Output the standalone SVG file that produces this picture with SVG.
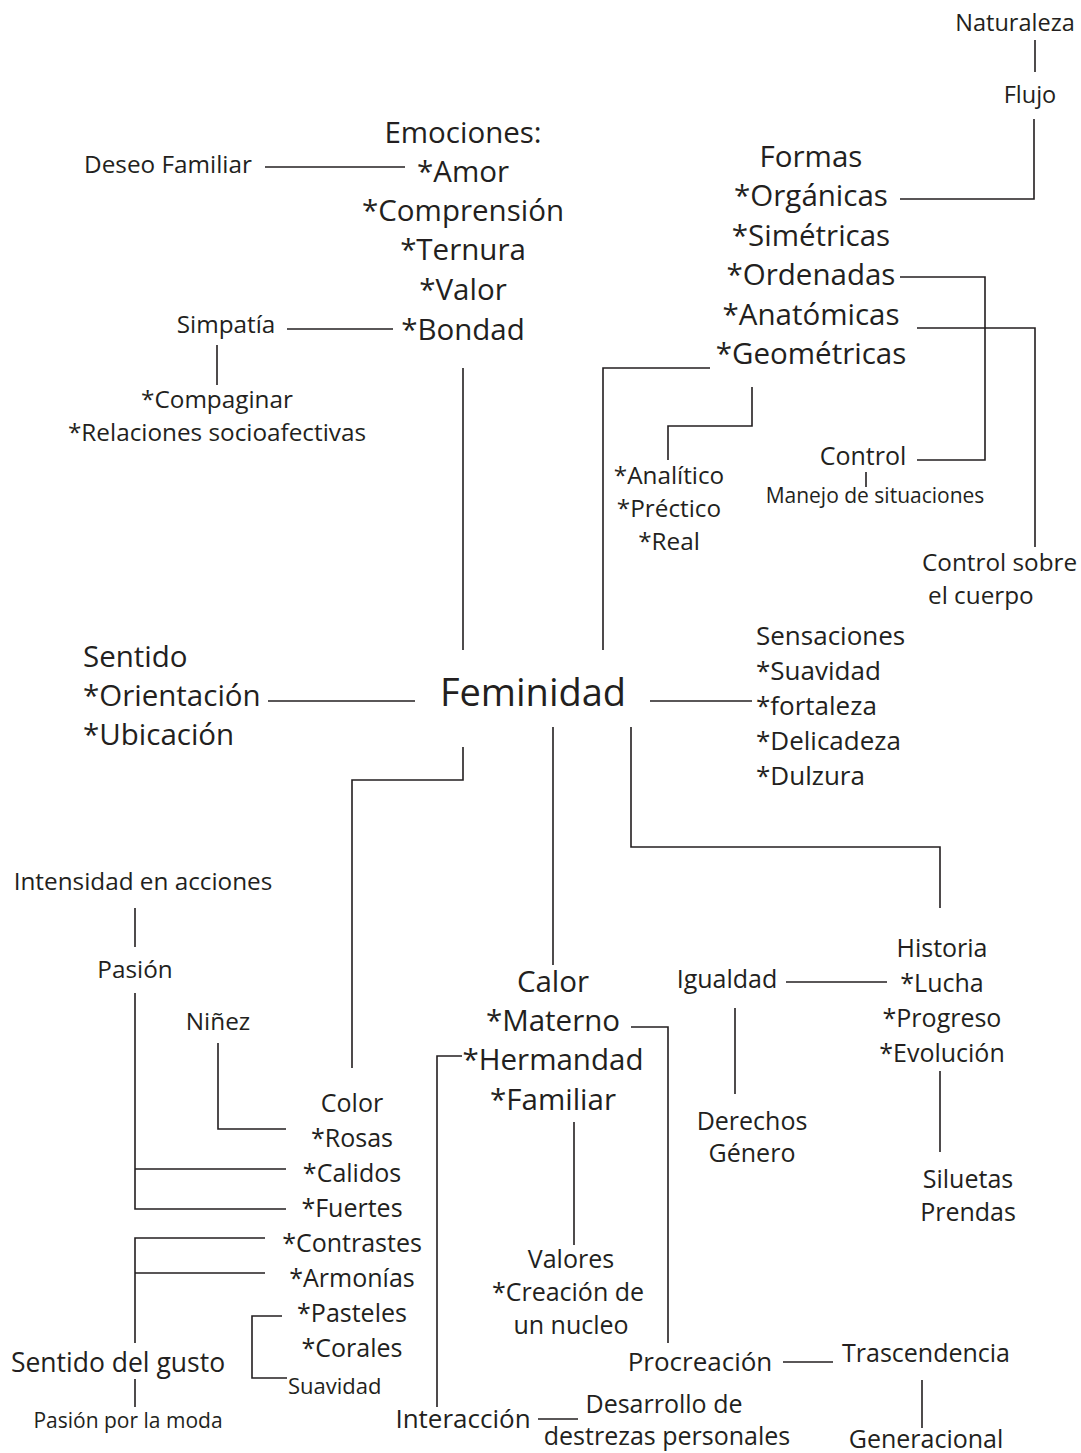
<svg xmlns="http://www.w3.org/2000/svg" width="1081" height="1453" viewBox="0 0 1081 1453">
<style>
text{font-family:"Open Sans","Noto Sans",sans-serif;fill:#231f20}
.c{text-anchor:middle}
.xl{font-size:29.5px}
.l{font-size:25px}
.m{font-size:24.3px}
.s{font-size:21px}
.f{font-size:38px}
.con path{fill:none;stroke:#231f20;stroke-width:1.6}
</style>
<rect width="1081" height="1453" fill="#fff"/>
<g class="con" id="connectors">
<path d="M1035,40V72"/>
<path d="M900,199H1034V119"/>
<path d="M900,277H985V460H917"/>
<path d="M917,328H1035V547"/>
<path d="M710,368H603V650"/>
<path d="M752,387V426H668V460"/>
<path d="M866,472V487"/>
<path d="M265,167H405"/>
<path d="M287,329H393"/>
<path d="M217,345V385"/>
<path d="M463,368V650"/>
<path d="M268,701H415"/>
<path d="M650,701H752"/>
<path d="M463,747V780H352V1068"/>
<path d="M553,727V965"/>
<path d="M631,727V847H940V908"/>
<path d="M135,908V947"/>
<path d="M135,993V1209H286M135,1169H286"/>
<path d="M218,1043V1129H286"/>
<path d="M265,1238H135V1343M135,1273H265"/>
<path d="M135,1379V1407"/>
<path d="M282,1316H252V1378H287"/>
<path d="M631,1027H668V1343"/>
<path d="M462,1056H437V1407"/>
<path d="M574,1122V1245"/>
<path d="M786,982H887"/>
<path d="M735,1008V1094"/>
<path d="M940,1071V1152"/>
<path d="M783,1362H833"/>
<path d="M922,1380V1428"/>
<path d="M538,1419H578"/>
</g>
<g id="naturaleza"><text class="m c" x="1015" y="31" style="font-size:23.5px">Naturaleza</text></g>
<g id="flujo"><text class="m c" x="1030" y="103" style="font-size:23.5px">Flujo</text></g>
<g id="formas">
<text class="xl c" x="811" y="167">Formas</text>
<text class="xl c" x="811" y="206">*Orgánicas</text>
<text class="xl c" x="811" y="246">*Simétricas</text>
<text class="xl c" x="811" y="285">*Ordenadas</text>
<text class="xl c" x="811" y="325">*Anatómicas</text>
<text class="xl c" x="811" y="364">*Geométricas</text>
</g>
<g id="emociones">
<text class="xl c" x="463" y="143">Emociones:</text>
<text class="xl c" x="463" y="182">*Amor</text>
<text class="xl c" x="463" y="221">*Comprensión</text>
<text class="xl c" x="463" y="260">*Ternura</text>
<text class="xl c" x="463" y="300">*Valor</text>
<text class="xl c" x="463" y="340">*Bondad</text>
</g>
<g id="deseo"><text class="m c" x="168" y="173">Deseo Familiar</text></g>
<g id="simpatia"><text class="m c" x="226" y="333">Simpatía</text></g>
<g id="compaginar">
<text class="m c" x="217" y="408">*Compaginar</text>
<text class="m c" x="217" y="441">*Relaciones socioafectivas</text>
</g>
<g id="analitico">
<text class="m c" x="669" y="484">*Analítico</text>
<text class="m c" x="669" y="517">*Préctico</text>
<text class="m c" x="669" y="550">*Real</text>
</g>
<g id="control"><text class="l c" x="863" y="465">Control</text></g>
<g id="manejo"><text class="s c" x="875" y="503">Manejo de situaciones</text></g>
<g id="control-cuerpo">
<text class="m" x="922" y="571">Control sobre</text>
<text class="m" x="928" y="604">el cuerpo</text>
</g>
<g id="sentido">
<text class="xl" x="83" y="667">Sentido</text>
<text class="xl" x="83" y="706">*Orientación</text>
<text class="xl" x="83" y="745">*Ubicación</text>
</g>
<g id="feminidad"><text class="f c" x="533" y="706">Feminidad</text></g>
<g id="sensaciones">
<text x="756" y="645" style="font-size:26px">Sensaciones</text>
<text x="756" y="680" style="font-size:26px">*Suavidad</text>
<text x="756" y="715" style="font-size:26px">*fortaleza</text>
<text x="756" y="750" style="font-size:26px">*Delicadeza</text>
<text x="756" y="785" style="font-size:26px">*Dulzura</text>
</g>
<g id="intensidad"><text class="m c" x="143" y="890">Intensidad en acciones</text></g>
<g id="pasion"><text class="m c" x="135" y="978">Pasión</text></g>
<g id="ninez"><text class="m c" x="218" y="1030">Niñez</text></g>
<g id="color">
<text class="l c" x="352" y="1112">Color</text>
<text class="l c" x="352" y="1147">*Rosas</text>
<text class="l c" x="352" y="1182">*Calidos</text>
<text class="l c" x="352" y="1217">*Fuertes</text>
<text class="l c" x="352" y="1252">*Contrastes</text>
<text class="l c" x="352" y="1287">*Armonías</text>
<text class="l c" x="352" y="1322">*Pasteles</text>
<text class="l c" x="352" y="1357">*Corales</text>
</g>
<g id="suavidad"><text class="s" x="288" y="1394" style="font-size:22px">Suavidad</text></g>
<g id="sentido-gusto"><text class="l c" x="118" y="1372" style="font-size:26.5px">Sentido del gusto</text></g>
<g id="pasion-moda"><text class="s c" x="128" y="1428">Pasión por la moda</text></g>
<g id="calor">
<text class="xl c" x="553" y="992">Calor</text>
<text class="xl c" x="553" y="1031">*Materno</text>
<text class="xl c" x="553" y="1070">*Hermandad</text>
<text class="xl c" x="553" y="1110">*Familiar</text>
</g>
<g id="valores">
<text class="l c" x="571" y="1268">Valores</text>
<text class="l c" x="568" y="1301">*Creación de</text>
<text class="l c" x="571" y="1334">un nucleo</text>
</g>
<g id="procreacion"><text class="l c" x="700" y="1371" style="font-size:26px">Procreación</text></g>
<g id="interaccion"><text class="l c" x="463" y="1428" style="font-size:26px">Interacción</text></g>
<g id="desarrollo">
<text class="l c" x="664" y="1413">Desarrollo de</text>
<text class="l c" x="667" y="1445">destrezas personales</text>
</g>
<g id="trascendencia"><text class="l c" x="926" y="1362">Trascendencia</text></g>
<g id="generacional"><text class="l c" x="926" y="1448">Generacional</text></g>
<g id="igualdad"><text class="l c" x="727" y="988">Igualdad</text></g>
<g id="derechos">
<text class="l c" x="752" y="1130">Derechos</text>
<text class="l c" x="752" y="1162">Género</text>
</g>
<g id="historia">
<text class="l c" x="942" y="957">Historia</text>
<text class="l c" x="942" y="992">*Lucha</text>
<text class="l c" x="942" y="1027">*Progreso</text>
<text class="l c" x="942" y="1062">*Evolución</text>
</g>
<g id="siluetas">
<text class="l c" x="968" y="1188">Siluetas</text>
<text class="l c" x="968" y="1221">Prendas</text>
</g>
</svg>
